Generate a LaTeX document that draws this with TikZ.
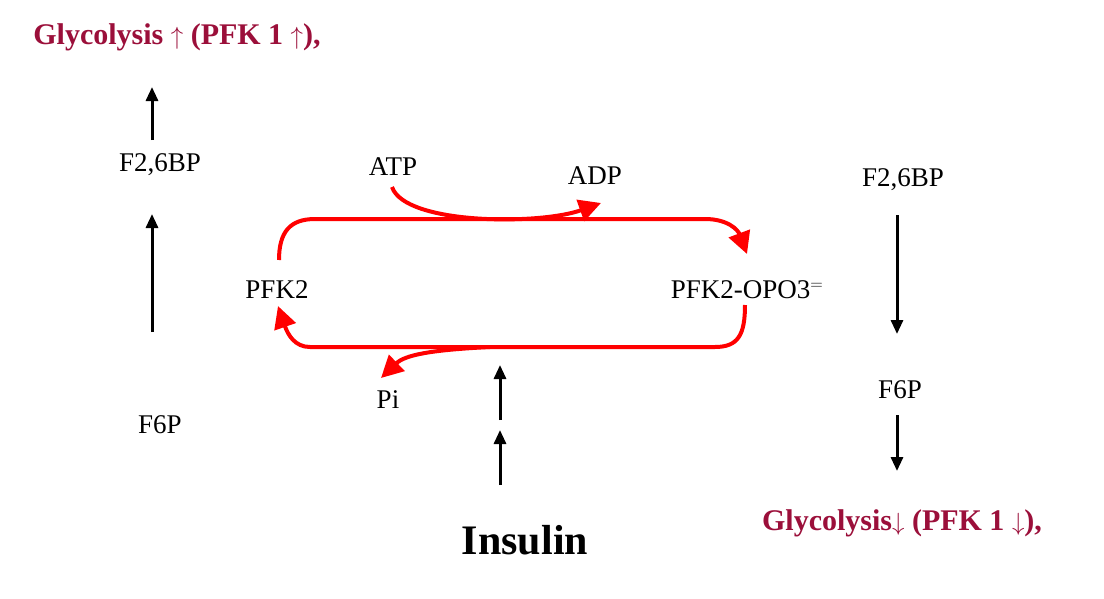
\documentclass[tikz,border=0pt]{standalone}
\usepackage{fontspec}
\setmainfont{Liberation Serif}
\usetikzlibrary{arrows.meta}
\definecolor{dred}{HTML}{9B0F3A}
\begin{document}
\begin{tikzpicture}[x=1pt,y=-1pt,
  lab/.style={font=\fontsize{27}{30}\selectfont,inner sep=0},
  gly/.style={font=\bfseries\fontsize{30}{34}\selectfont,text=dred,inner sep=0},
  blk/.style={line width=3pt,-{Triangle[length=14pt,width=12pt]}},
  rd/.style={draw=red,line width=4pt,-{Triangle[length=22pt,width=22pt]}}]
\useasboundingbox (0,0) rectangle (1104,598);
\node[gly] (g1) at (177,37) {Glycolysis $\uparrow$ (PFK 1 $\uparrow$),};
\node[lab] (lf26) at (160,165) {F2,6BP};
\node[lab] (lf6) at (160,425) {F6P};
\coordinate (la1) at (152,140); \coordinate (la1e) at (152,87);
\draw[blk] (la1) -- (la1e);
\coordinate (la2) at (152,332); \coordinate (la2e) at (152,214);
\draw[blk] (la2) -- (la2e);
\node[lab] (pfk) at (277,290) {PFK2};
\node[lab] (pfkp) at (747,290) {PFK2-OPO3$^{=}$};
\node[lab] (atp) at (393,167) {ATP};
\node[lab] (adp) at (595,176) {ADP};
\node[lab] (pi) at (388,400) {Pi};
\node[font=\bfseries\fontsize{42}{46}\selectfont,inner sep=0] (ins) at (525,540) {Insulin};
\coordinate (i1) at (500,485); \coordinate (i1e) at (500,430);
\coordinate (i2) at (500,420); \coordinate (i2e) at (500,365);
\draw[blk] (i1) -- (i1e);
\draw[blk] (i2) -- (i2e);
\node[lab] (rf26) at (903,180) {F2,6BP};
\node[lab] (rf6) at (900,390) {F6P};
\node[gly] (g2) at (902,523) {Glycolysis$\downarrow$ (PFK 1 $\downarrow$),};
\coordinate (r1) at (897,215); \coordinate (r1e) at (897,334);
\coordinate (r2) at (897,415); \coordinate (r2e) at (897,471);
\draw[blk] (r1) -- (r1e);
\draw[blk] (r2) -- (r2e);
% cycle
\draw[rd] (279,260) .. controls (279,232) and (290,219) .. (315,219) -- (705,219)
  .. controls (728,219) and (738,230) .. (747,254);
\draw[rd] (745,305) .. controls (745,335) and (738,347) .. (715,347) -- (310,347)
  .. controls (295,347) and (288,335) .. (278,306);
\draw[rd] (392,187) .. controls (405,225) and (540,225) .. (601,203);
\draw[rd] (490,347) .. controls (430,350) and (405,355) .. (381,378);
\end{tikzpicture}
\end{document}
